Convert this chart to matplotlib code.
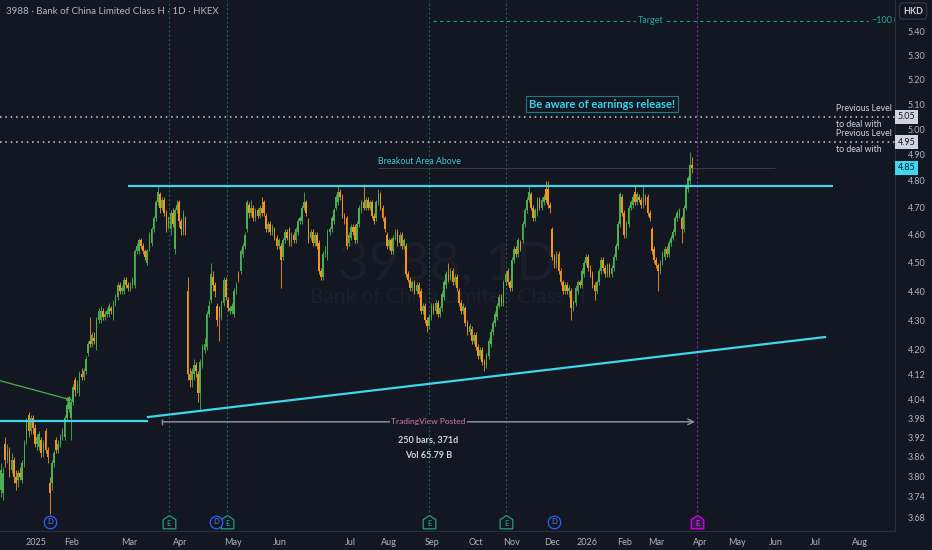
import numpy as np
import matplotlib.pyplot as plt
import matplotlib.transforms as mtransforms
from matplotlib.path import Path
from matplotlib.ticker import FixedLocator, NullLocator, FuncFormatter

plt.rcParams["font.family"] = ["Lato", "DejaVu Sans"]

# =========================
# DATA (daily candles, bar index 0 = late Dec 2024)
# =========================
opens = [
    3.76, 3.75, 3.90, 3.85, 3.88, 3.82, 3.85, 3.80, 3.79, 3.81,
    3.79, 3.84, 3.91, 3.99, 3.94, 3.98, 3.95, 3.90, 3.89, 3.91,
    3.87, 3.94, 3.88, 3.78, 3.78, 3.84, 3.91, 3.88, 3.90, 3.92,
    3.92, 3.98, 4.01, 3.98, 4.03, 4.10, 4.07, 4.06, 4.12, 4.11,
    4.13, 4.19, 4.23, 4.22, 4.24, 4.21, 4.30, 4.30, 4.33, 4.31,
    4.32, 4.32, 4.34, 4.31, 4.36, 4.38, 4.42, 4.40, 4.40, 4.44,
    4.42, 4.41, 4.42, 4.42, 4.54, 4.54, 4.58, 4.56, 4.54, 4.50,
    4.55, 4.57, 4.62, 4.66, 4.72, 4.75, 4.70, 4.73, 4.68, 4.63,
    4.62, 4.68, 4.55, 4.69, 4.72, 4.65, 4.61, 4.66, 4.40, 4.12,
    4.10, 4.12, 4.15, 4.12, 4.06, 4.15, 4.20, 4.21, 4.32, 4.37,
    4.45, 4.42, 4.35, 4.34, 4.31, 4.36, 4.44, 4.37, 4.33, 4.33,
    4.32, 4.40, 4.46, 4.47, 4.53, 4.56, 4.62, 4.71, 4.68, 4.70,
    4.66, 4.69, 4.67, 4.70, 4.72, 4.67, 4.62, 4.64, 4.61, 4.62,
    4.59, 4.56, 4.56, 4.52, 4.58, 4.61, 4.62, 4.57, 4.60, 4.58,
    4.61, 4.65, 4.65, 4.70, 4.72, 4.65, 4.59, 4.61, 4.57, 4.60,
    4.57, 4.47, 4.45, 4.53, 4.52, 4.61, 4.62, 4.65, 4.70, 4.72,
    4.76, 4.74, 4.67, 4.66, 4.57, 4.59, 4.63, 4.63, 4.58, 4.64,
    4.69, 4.72, 4.70, 4.73, 4.70, 4.72, 4.67, 4.66, 4.72, 4.75,
    4.70, 4.66, 4.60, 4.56, 4.58, 4.54, 4.59, 4.61, 4.57, 4.60,
    4.56, 4.56, 4.46, 4.44, 4.41, 4.43, 4.40, 4.42, 4.40, 4.33,
    4.35, 4.30, 4.28, 4.31, 4.35, 4.33, 4.36, 4.32, 4.34, 4.38,
    4.42, 4.46, 4.45, 4.47, 4.43, 4.45, 4.40, 4.36, 4.33, 4.34,
    4.29, 4.26, 4.27, 4.23, 4.25, 4.21, 4.18, 4.20, 4.16, 4.15,
    4.18, 4.22, 4.26, 4.29, 4.31, 4.35, 4.38, 4.36, 4.43, 4.47,
    4.43, 4.41, 4.51, 4.55, 4.53, 4.57, 4.58, 4.64, 4.69, 4.73,
    4.75, 4.70, 4.66, 4.68, 4.73, 4.70, 4.72, 4.77, 4.77, 4.71,
    4.62, 4.52, 4.49, 4.53, 4.47, 4.43, 4.40, 4.42, 4.40, 4.40,
    4.34, 4.36, 4.40, 4.43, 4.42, 4.46, 4.50, 4.52, 4.48, 4.46,
    4.42, 4.40, 4.43, 4.47, 4.51, 4.48, 4.46, 4.49, 4.46, 4.48,
    4.52, 4.56, 4.64, 4.74, 4.68, 4.60, 4.64, 4.70, 4.71, 4.76,
    4.72, 4.74, 4.73, 4.71, 4.74, 4.74, 4.68, 4.62, 4.55, 4.51,
    4.49, 4.47, 4.50, 4.52, 4.55, 4.53, 4.57, 4.59, 4.61, 4.66,
    4.67, 4.66, 4.62, 4.70, 4.77, 4.80, 4.86,
]
highs = [
    3.84, 3.83, 3.92, 3.90, 3.89, 3.87, 3.86, 3.82, 3.82, 3.83,
    3.85, 3.91, 3.98, 4.00, 3.99, 3.99, 3.96, 3.93, 3.94, 3.92,
    3.91, 3.95, 3.89, 3.80, 3.85, 3.88, 3.92, 3.91, 3.93, 3.95,
    3.99, 4.03, 4.05, 4.04, 4.09, 4.11, 4.10, 4.13, 4.14, 4.14,
    4.18, 4.23, 4.31, 4.26, 4.26, 4.31, 4.34, 4.35, 4.34, 4.33,
    4.34, 4.36, 4.35, 4.37, 4.39, 4.43, 4.43, 4.42, 4.45, 4.45,
    4.43, 4.43, 4.45, 4.55, 4.57, 4.59, 4.59, 4.57, 4.55, 4.55,
    4.61, 4.63, 4.67, 4.73, 4.78, 4.76, 4.74, 4.74, 4.69, 4.67,
    4.69, 4.70, 4.70, 4.73, 4.73, 4.66, 4.69, 4.67, 4.45, 4.14,
    4.14, 4.17, 4.16, 4.13, 4.17, 4.22, 4.24, 4.33, 4.37, 4.50,
    4.47, 4.43, 4.36, 4.35, 4.37, 4.45, 4.45, 4.38, 4.35, 4.36,
    4.41, 4.43, 4.47, 4.55, 4.57, 4.61, 4.73, 4.72, 4.73, 4.71,
    4.70, 4.70, 4.71, 4.74, 4.73, 4.68, 4.65, 4.65, 4.64, 4.63,
    4.60, 4.59, 4.57, 4.59, 4.62, 4.62, 4.63, 4.61, 4.61, 4.63,
    4.66, 4.67, 4.71, 4.76, 4.73, 4.66, 4.62, 4.62, 4.61, 4.61,
    4.58, 4.48, 4.54, 4.56, 4.62, 4.63, 4.67, 4.70, 4.75, 4.78,
    4.77, 4.75, 4.68, 4.67, 4.61, 4.64, 4.64, 4.64, 4.65, 4.71,
    4.73, 4.79, 4.74, 4.74, 4.73, 4.73, 4.68, 4.73, 4.77, 4.76,
    4.71, 4.67, 4.61, 4.59, 4.59, 4.60, 4.62, 4.62, 4.61, 4.61,
    4.59, 4.57, 4.47, 4.45, 4.44, 4.44, 4.43, 4.43, 4.41, 4.36,
    4.36, 4.31, 4.32, 4.36, 4.36, 4.37, 4.37, 4.35, 4.40, 4.44,
    4.47, 4.50, 4.48, 4.48, 4.46, 4.46, 4.41, 4.37, 4.36, 4.35,
    4.30, 4.29, 4.28, 4.26, 4.26, 4.22, 4.21, 4.21, 4.17, 4.19,
    4.24, 4.27, 4.30, 4.33, 4.36, 4.39, 4.39, 4.44, 4.47, 4.48,
    4.44, 4.52, 4.56, 4.56, 4.59, 4.58, 4.65, 4.70, 4.74, 4.78,
    4.76, 4.71, 4.70, 4.74, 4.74, 4.74, 4.75, 4.80, 4.80, 4.72,
    4.63, 4.53, 4.54, 4.54, 4.48, 4.44, 4.43, 4.43, 4.42, 4.41,
    4.37, 4.42, 4.44, 4.44, 4.48, 4.51, 4.53, 4.53, 4.49, 4.47,
    4.43, 4.44, 4.48, 4.52, 4.52, 4.49, 4.50, 4.50, 4.49, 4.53,
    4.57, 4.65, 4.76, 4.75, 4.69, 4.65, 4.71, 4.73, 4.75, 4.78,
    4.76, 4.75, 4.74, 4.79, 4.75, 4.75, 4.69, 4.63, 4.56, 4.52,
    4.50, 4.51, 4.54, 4.56, 4.56, 4.58, 4.60, 4.62, 4.67, 4.69,
    4.70, 4.67, 4.71, 4.79, 4.82, 4.91, 4.89,
]
lows = [
    3.74, 3.73, 3.83, 3.84, 3.80, 3.81, 3.78, 3.76, 3.77, 3.79,
    3.78, 3.83, 3.90, 3.92, 3.93, 3.93, 3.89, 3.88, 3.88, 3.86,
    3.86, 3.87, 3.84, 3.69, 3.76, 3.83, 3.87, 3.87, 3.89, 3.91,
    3.91, 3.97, 4.00, 3.91, 4.02, 4.05, 4.06, 4.05, 4.10, 4.10,
    4.12, 4.18, 4.21, 4.21, 4.22, 4.20, 4.29, 4.29, 4.30, 4.30,
    4.31, 4.31, 4.32, 4.30, 4.35, 4.37, 4.39, 4.39, 4.39, 4.41,
    4.40, 4.40, 4.41, 4.41, 4.53, 4.53, 4.55, 4.53, 4.51, 4.49,
    4.54, 4.56, 4.61, 4.65, 4.71, 4.68, 4.69, 4.67, 4.61, 4.62,
    4.60, 4.63, 4.53, 4.68, 4.63, 4.60, 4.60, 4.60, 4.10, 4.08,
    4.08, 4.10, 4.11, 4.03, 4.01, 4.14, 4.19, 4.20, 4.31, 4.36,
    4.40, 4.38, 4.28, 4.23, 4.30, 4.35, 4.37, 4.33, 4.32, 4.32,
    4.31, 4.39, 4.43, 4.46, 4.52, 4.55, 4.61, 4.66, 4.67, 4.65,
    4.65, 4.66, 4.66, 4.67, 4.67, 4.61, 4.61, 4.60, 4.60, 4.58,
    4.55, 4.55, 4.41, 4.51, 4.57, 4.58, 4.56, 4.56, 4.57, 4.57,
    4.60, 4.64, 4.64, 4.69, 4.67, 4.57, 4.58, 4.56, 4.56, 4.55,
    4.46, 4.44, 4.44, 4.52, 4.51, 4.60, 4.61, 4.64, 4.69, 4.71,
    4.73, 4.66, 4.64, 4.55, 4.56, 4.58, 4.60, 4.57, 4.57, 4.63,
    4.68, 4.69, 4.69, 4.69, 4.69, 4.66, 4.64, 4.65, 4.71, 4.69,
    4.65, 4.61, 4.55, 4.55, 4.53, 4.53, 4.58, 4.56, 4.56, 4.55,
    4.55, 4.45, 4.43, 4.40, 4.40, 4.39, 4.39, 4.38, 4.32, 4.32,
    4.29, 4.26, 4.27, 4.30, 4.32, 4.32, 4.31, 4.31, 4.33, 4.37,
    4.41, 4.43, 4.44, 4.42, 4.42, 4.40, 4.35, 4.32, 4.32, 4.28,
    4.25, 4.25, 4.22, 4.22, 4.20, 4.17, 4.17, 4.15, 4.13, 4.14,
    4.17, 4.21, 4.25, 4.28, 4.30, 4.34, 4.35, 4.35, 4.42, 4.42,
    4.40, 4.40, 4.50, 4.52, 4.52, 4.54, 4.57, 4.63, 4.68, 4.72,
    4.69, 4.65, 4.65, 4.67, 4.69, 4.69, 4.71, 4.72, 4.70, 4.68,
    4.51, 4.48, 4.48, 4.46, 4.42, 4.39, 4.39, 4.39, 4.38, 4.30,
    4.33, 4.35, 4.39, 4.41, 4.41, 4.45, 4.49, 4.47, 4.45, 4.41,
    4.37, 4.39, 4.42, 4.46, 4.47, 4.45, 4.45, 4.45, 4.45, 4.47,
    4.51, 4.55, 4.63, 4.67, 4.59, 4.59, 4.63, 4.69, 4.70, 4.71,
    4.71, 4.72, 4.70, 4.70, 4.71, 4.67, 4.65, 4.53, 4.50, 4.48,
    4.40, 4.46, 4.49, 4.51, 4.52, 4.52, 4.56, 4.58, 4.60, 4.65,
    4.66, 4.57, 4.61, 4.69, 4.76, 4.79, 4.83,
]
closes = [
    3.82, 3.81, 3.85, 3.88, 3.82, 3.85, 3.80, 3.78, 3.81, 3.80,
    3.84, 3.90, 3.97, 3.94, 3.98, 3.95, 3.90, 3.92, 3.93, 3.87,
    3.90, 3.88, 3.86, 3.75, 3.84, 3.87, 3.88, 3.90, 3.92, 3.94,
    3.98, 4.02, 4.04, 4.03, 4.08, 4.07, 4.09, 4.12, 4.11, 4.13,
    4.17, 4.22, 4.22, 4.25, 4.23, 4.30, 4.33, 4.33, 4.31, 4.32,
    4.33, 4.35, 4.33, 4.36, 4.38, 4.42, 4.40, 4.41, 4.44, 4.42,
    4.41, 4.42, 4.44, 4.54, 4.56, 4.58, 4.56, 4.54, 4.52, 4.54,
    4.60, 4.62, 4.66, 4.72, 4.76, 4.70, 4.73, 4.68, 4.63, 4.66,
    4.68, 4.64, 4.69, 4.71, 4.65, 4.62, 4.68, 4.62, 4.12, 4.10,
    4.13, 4.15, 4.13, 4.06, 4.16, 4.21, 4.22, 4.32, 4.35, 4.46,
    4.42, 4.40, 4.30, 4.31, 4.36, 4.44, 4.38, 4.34, 4.34, 4.35,
    4.40, 4.42, 4.45, 4.54, 4.56, 4.60, 4.72, 4.68, 4.70, 4.66,
    4.69, 4.67, 4.70, 4.68, 4.68, 4.62, 4.64, 4.61, 4.63, 4.59,
    4.56, 4.58, 4.51, 4.58, 4.61, 4.59, 4.57, 4.60, 4.58, 4.62,
    4.65, 4.66, 4.70, 4.72, 4.68, 4.58, 4.61, 4.57, 4.60, 4.56,
    4.47, 4.45, 4.53, 4.55, 4.61, 4.62, 4.66, 4.69, 4.74, 4.76,
    4.74, 4.67, 4.66, 4.56, 4.60, 4.63, 4.61, 4.58, 4.64, 4.70,
    4.72, 4.70, 4.73, 4.70, 4.72, 4.67, 4.65, 4.72, 4.75, 4.70,
    4.66, 4.62, 4.56, 4.58, 4.54, 4.59, 4.61, 4.57, 4.60, 4.56,
    4.58, 4.46, 4.44, 4.41, 4.43, 4.40, 4.42, 4.39, 4.33, 4.35,
    4.30, 4.28, 4.31, 4.35, 4.33, 4.36, 4.32, 4.34, 4.39, 4.43,
    4.46, 4.44, 4.47, 4.43, 4.45, 4.41, 4.36, 4.33, 4.35, 4.29,
    4.26, 4.28, 4.23, 4.25, 4.21, 4.18, 4.20, 4.16, 4.15, 4.18,
    4.23, 4.26, 4.29, 4.32, 4.35, 4.38, 4.36, 4.43, 4.46, 4.43,
    4.41, 4.51, 4.55, 4.53, 4.58, 4.55, 4.64, 4.69, 4.73, 4.76,
    4.70, 4.66, 4.69, 4.73, 4.70, 4.73, 4.74, 4.73, 4.71, 4.70,
    4.52, 4.49, 4.53, 4.47, 4.43, 4.40, 4.42, 4.40, 4.41, 4.34,
    4.36, 4.41, 4.43, 4.42, 4.47, 4.50, 4.52, 4.48, 4.46, 4.42,
    4.40, 4.43, 4.47, 4.51, 4.48, 4.46, 4.49, 4.46, 4.48, 4.52,
    4.56, 4.64, 4.75, 4.68, 4.60, 4.64, 4.70, 4.72, 4.74, 4.72,
    4.75, 4.73, 4.71, 4.75, 4.72, 4.68, 4.66, 4.54, 4.51, 4.49,
    4.47, 4.50, 4.53, 4.55, 4.53, 4.57, 4.59, 4.61, 4.66, 4.68,
    4.69, 4.62, 4.70, 4.78, 4.81, 4.86, 4.85,
]

month_labels = ["2025", "Feb", "Mar", "Apr", "May", "Jun", "Jul", "Aug", "Sep", "Oct",
                "Nov", "Dec", "2026", "Feb", "Mar", "Apr", "May", "Jun", "Jul", "Aug"]
month_bars = [16.5, 33.5, 60.4, 84.4, 109.4, 131.6, 164.6, 183.0, 203.3, 224.1,
              241.0, 259.9, 276.4, 294.3, 309.0, 329.7, 347.2, 365.6, 384.4, 405.2]

price_ticks = [3.68, 3.74, 3.80, 3.86, 3.92, 3.98, 4.04, 4.12, 4.20, 4.30,
               4.40, 4.50, 4.60, 4.70, 4.80, 4.90, 5.00, 5.10, 5.20, 5.30, 5.40]

dividend_bars = [23.1, 101.4, 260.8]
earnings_bars = [79.2, 106.6, 201.9, 238.2]
next_earnings_bar = 328.3

# drawings (bar index, price)
resistance = (59.9, 392.5, 4.78)
old_support = (-1.0, 69.3, 3.97)
trend_line = ([69.3, 388.7], [3.983, 4.243])
green_line = ([-1.0, 31.6], [4.10, 4.04])
prev_levels = [5.05, 4.95]
breakout = (177.8, 365.1, 4.85)
target = (203.8, 409.0, 5.447)
measure = (76.0, 327.4, 3.968)
last_price = 4.85

# =========================
# STYLE
# =========================
BG = "#131722"
UP = "#4caf50"
DOWN = "#f7931a"
CYAN = "#3fd5ea"
TXT = "#b2b5be"

fig = plt.figure(figsize=(9.32, 5.5), dpi=100, facecolor=BG)
ax = fig.add_axes([0, 19 / 550, 895 / 932, 531 / 550], facecolor=BG)

# =========================
# CANDLES
# =========================
o = np.array(opens)
h = np.array(highs)
l = np.array(lows)
c = np.array(closes)
x = np.arange(len(c))
cols = np.where(c >= o, UP, DOWN)

ax.vlines(x, np.minimum(l, np.minimum(o, c)), np.maximum(h, np.maximum(o, c)),
          colors=cols, linewidth=0.6, zorder=3)
body_lo = np.minimum(o, c)
body_h = np.maximum(np.abs(c - o), 0.004)
ax.bar(x, body_h, bottom=body_lo, width=0.75, color=cols, linewidth=0, zorder=4)

ax.set_yscale("log")
ax.set_ylim(3.640, 5.538)
ax.set_xlim(-0.47, 421.7)

# =========================
# AXES
# =========================
ax.yaxis.tick_right()
ax.yaxis.set_major_locator(FixedLocator(price_ticks))
ax.yaxis.set_minor_locator(NullLocator())
ax.yaxis.set_major_formatter(FuncFormatter(lambda v, _: f"{v:.2f}"))
ax.set_xticks(month_bars)
ax.set_xticklabels(month_labels)
ax.xaxis.set_minor_locator(NullLocator())
ax.tick_params(axis="y", length=0, labelsize=6.5, labelcolor=TXT, pad=9)
ax.tick_params(axis="x", length=0, labelsize=6.5, labelcolor=TXT, pad=5)
for s in ["left", "top"]:
    ax.spines[s].set_visible(False)
for s in ["right", "bottom"]:
    ax.spines[s].set_color("#2a2e39")
    ax.spines[s].set_linewidth(0.8)

# =========================
# WATERMARK
# =========================
ax.text(0.5, 0.50, "3988, 1D", transform=ax.transAxes, ha="center", va="center",
        fontsize=38, color="#1b1f2a", zorder=0)
ax.text(0.5, 0.44, "Bank of China Limited Class H", transform=ax.transAxes,
        ha="center", va="center", fontsize=15, color="#1b1f2a", zorder=0)

# =========================
# EVENTS
# =========================
trans = mtransforms.blended_transform_factory(ax.transData, ax.transAxes)
mk_y = 9 / 531
e_shape = Path([(-1, -1), (1, -1), (1, 0.45), (0, 1.1), (-1, 0.45), (-1, -1)],
               [Path.MOVETO, Path.LINETO, Path.LINETO, Path.LINETO, Path.LINETO, Path.CLOSEPOLY])

for b in earnings_bars:
    ax.axvline(b, ymin=0.035, ymax=1, color="#1f5e5a", lw=0.8, ls=(0, (2, 2)), zorder=1)
    ax.plot(b, mk_y, marker=e_shape, ms=10, mfc=BG, mec="#1f9c83", mew=0.9,
            transform=trans, clip_on=False, zorder=6)
    ax.text(b, mk_y - 0.002, "E", transform=trans, ha="center", va="center",
            fontsize=5.5, color="#26b08f", zorder=7)

ax.axvline(next_earnings_bar, ymin=0.035, ymax=1, color="#8e24aa", lw=0.8,
           ls=(0, (2, 2)), zorder=1)
ax.plot(next_earnings_bar, mk_y, marker=e_shape, ms=10, mfc="#3b1650", mec="#d500f9",
        mew=0.9, transform=trans, clip_on=False, zorder=6)
ax.text(next_earnings_bar, mk_y - 0.002, "E", transform=trans, ha="center",
        va="center", fontsize=5.5, color="#e040fb", zorder=7)

for b in dividend_bars:
    ax.plot(b, mk_y, marker="o", ms=9, mfc=BG, mec="#2962ff", mew=0.9,
            transform=trans, clip_on=False, zorder=6)
    ax.text(b, mk_y, "D", transform=trans, ha="center", va="center",
            fontsize=5.5, color="#5b7cff", zorder=7)

# =========================
# DRAWINGS
# =========================
ax.hlines(resistance[2], resistance[0], resistance[1], color=CYAN, lw=1.6, zorder=5)
ax.hlines(old_support[2], old_support[0], old_support[1], color=CYAN, lw=1.6, zorder=5)
ax.plot(trend_line[0], trend_line[1], color=CYAN, lw=1.6, zorder=5)
ax.plot(green_line[0], green_line[1], color=UP, lw=0.9, zorder=5)
ax.plot(green_line[0][1], green_line[1][1], "o", ms=2.5, color=UP, zorder=5)

for lvl in prev_levels:
    ax.axhline(lvl, color="#d1d4dc", lw=1.1, ls=(0, (1, 2.5)), zorder=2)
    ax.annotate("Previous Level", (393.9, lvl), xytext=(0, 6), textcoords="offset points",
                ha="left", va="center", fontsize=6.3, color="#d1d4dc")
    ax.annotate("to deal with", (393.9, lvl), xytext=(0, -5.5), textcoords="offset points",
                ha="left", va="center", fontsize=6.3, color="#d1d4dc")

ax.hlines(breakout[2], breakout[0], breakout[1], color="#3b3f4a", lw=0.7, zorder=2)
ax.annotate("Breakout Area Above", (breakout[0], breakout[2]), xytext=(0, 1),
            textcoords="offset points", ha="left", va="bottom", fontsize=6.3,
            color="#45c6d9")

ax.hlines(target[2], target[0], target[1], color="#1f9e9a", lw=0.8, ls=(0, (3, 3)), zorder=2)
ax.text((target[0] + target[1]) / 2, target[2], "Target", ha="center", va="center",
        fontsize=6.5, color="#26a69a", zorder=3,
        bbox=dict(boxstyle="square,pad=0.2", fc=BG, ec="none"))
ax.text(target[1] + 1.5, target[2], "\u2212100.0", ha="left", va="center",
        fontsize=6.5, color="#26a69a", clip_on=True)

ax.text(283.5, 5.101, "Be aware of earnings release!", ha="center", va="center",
        fontsize=8, fontweight="bold", color="#3ad3ea", zorder=6,
        bbox=dict(boxstyle="square,pad=0.25", fc=BG, ec="#1f7a85", lw=0.8))

# measure tool
ax.annotate("", xy=(measure[1], measure[2]), xytext=(measure[0], measure[2]),
            arrowprops=dict(arrowstyle="->", color="#8a8d96", lw=1.1,
                            shrinkA=0, shrinkB=0), zorder=4)
ax.plot(measure[0], measure[2], marker="|", ms=4, color="#8a8d96", zorder=4)
mid = (measure[0] + measure[1]) / 2
ax.text(mid, measure[2], "TradingView Posted", ha="center", va="center",
        fontsize=6, color="#d27aa9", zorder=5,
        bbox=dict(boxstyle="square,pad=0.2", fc=BG, ec="none"))
ax.annotate("250 bars, 371d", (mid, measure[2]), xytext=(0, -13),
            textcoords="offset points", ha="center", va="center", fontsize=6.5,
            fontweight="bold", color="#d1d4dc")
ax.annotate("Vol 65.79 B", (mid, measure[2]), xytext=(0, -24.5),
            textcoords="offset points", ha="center", va="center", fontsize=6.5,
            fontweight="bold", color="#d1d4dc")

# =========================
# PRICE TAGS ON AXIS
# =========================
ytrans = mtransforms.blended_transform_factory(ax.transAxes, ax.transData)
for lvl in prev_levels:
    ax.text(1.0 + 3 / 895, lvl, f"{lvl:.2f}", transform=ytrans, ha="left", va="center",
            fontsize=6.5, color="#131722", clip_on=False, zorder=8,
            bbox=dict(boxstyle="square,pad=0.3", fc="#d1d4dc", ec="none"))
ax.text(1.0 + 3 / 895, last_price, f"{last_price:.2f}", transform=ytrans, ha="left",
        va="center", fontsize=6.5, color="#131722", clip_on=False, zorder=8,
        bbox=dict(boxstyle="square,pad=0.3", fc="#3fd6f0", ec="none"))

# =========================
# HEADER
# =========================
fig.text(6 / 932, 1 - 11 / 550, "3988 \u00b7 Bank of China Limited Class H \u00b7 1D \u00b7 HKEX",
         ha="left", va="center", fontsize=7, color=TXT)
fig.text(913 / 932, 1 - 11 / 550, "HKD", ha="center", va="center", fontsize=6.5,
         fontweight="bold", color="#d1d4dc",
         bbox=dict(boxstyle="round,pad=0.4", fc=BG, ec="#363a45", lw=0.8))

fig.savefig("out.png", dpi=100, facecolor=BG)
